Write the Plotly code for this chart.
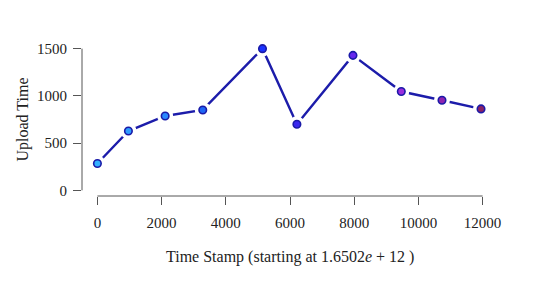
import plotly.graph_objects as go

time_stamp = [0, 966, 2110, 3282, 5143, 6215, 7962, 9467, 10735, 11951]
upload_time = [284, 628, 787, 851, 1500, 699, 1429, 1046, 954, 862]
marker_fill = ["#33b0ff", "#2f9cff", "#2a88ff", "#1f66f5", "#1a33ff",
               "#3a28ee", "#6626ee", "#9a2ddd", "#8f24b0", "#8a2266"]
x_ticks = [0, 2000, 4000, 6000, 8000, 10000, 12000]
y_ticks = [0, 500, 1000, 1500]

line_col = "#1c1caa"
font_fam = "Liberation Serif, DejaVu Serif, serif"

fig = go.Figure()
fig.add_trace(go.Scatter(x=time_stamp, y=upload_time, mode="lines",
                         line=dict(color=line_col, width=2.4), hoverinfo="skip"))
fig.add_trace(go.Scatter(x=time_stamp, y=upload_time, mode="markers",
                         marker=dict(color="white", size=16, line=dict(width=0)),
                         hoverinfo="skip"))
fig.add_trace(go.Scatter(x=time_stamp, y=upload_time, mode="markers",
                         marker=dict(color=marker_fill, size=7.5,
                                     line=dict(color="#1a1aa8", width=1.6))))

axis_common = dict(showgrid=False, zeroline=False, showline=False,
                   ticks="outside", ticklen=8, tickwidth=1, tickcolor="#555555",
                   tickfont=dict(family=font_fam, size=15, color="#222222"))

fig.update_layout(
    width=540, height=283,
    margin=dict(l=82, r=42, t=43, b=87),
    paper_bgcolor="white", plot_bgcolor="white",
    showlegend=False,
    xaxis=dict(range=[-480, 12480], tickvals=x_ticks,
               ticktext=[str(v) for v in x_ticks], ticklabelstandoff=5, **axis_common),
    yaxis=dict(range=[-60, 1560], tickvals=y_ticks,
               ticktext=[str(v) for v in y_ticks], ticklabelstandoff=3, **axis_common),
    shapes=[
        dict(type="line", xref="x", yref="paper", x0=x_ticks[0], x1=x_ticks[-1],
             y0=0, y1=0, line=dict(color="#555555", width=1)),
        dict(type="line", xref="paper", yref="y", x0=0, x1=0,
             y0=y_ticks[0], y1=y_ticks[-1], line=dict(color="#555555", width=1)),
    ],
    annotations=[
        dict(text="Time Stamp (starting at 1.6502<i>e</i> + 12 )", xref="paper", yref="paper",
             x=0.5, y=0, yshift=-61, showarrow=False, xanchor="center", yanchor="middle",
             font=dict(family=font_fam, size=16, color="#222222")),
        dict(text="Upload Time", xref="paper", yref="paper", textangle=-90,
             x=0, y=0.5, xshift=-60, showarrow=False, xanchor="center", yanchor="middle",
             font=dict(family=font_fam, size=16, color="#222222")),
    ],
)

fig.write_html("out.html")
